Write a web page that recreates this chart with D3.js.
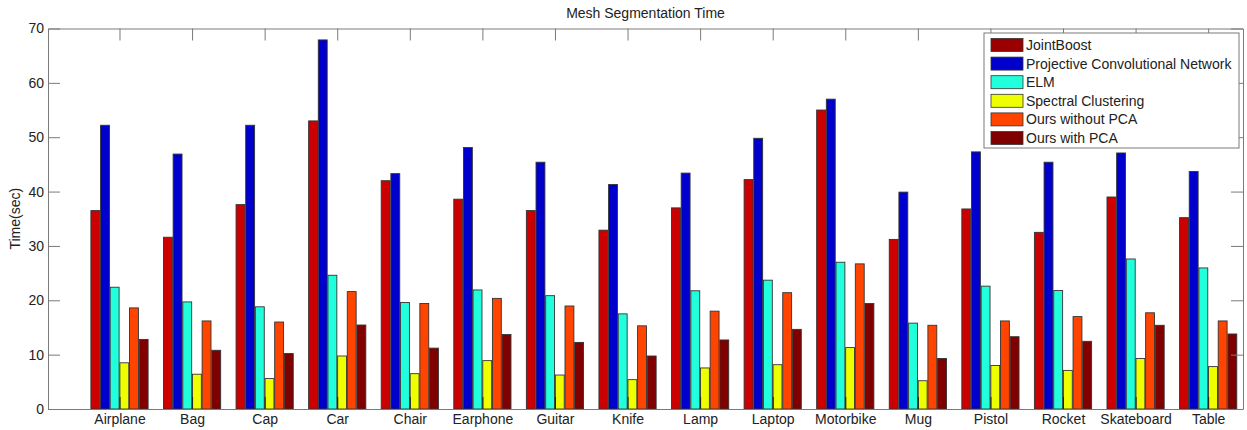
<!DOCTYPE html>
<html>
<head>
<meta charset="utf-8">
<script src="https://cdn.jsdelivr.net/npm/d3@7"></script>
<style>
  body { margin: 0; background: #fff; }
  svg text { font-family: "Liberation Sans", Arial, sans-serif; fill: #222; }
</style>
</head>
<body>
<div id="chart"></div>
<script>
// data
const categories = ['Airplane', 'Bag', 'Cap', 'Car', 'Chair', 'Earphone', 'Guitar', 'Knife',
    'Lamp', 'Laptop', 'Motorbike', 'Mug', 'Pistol', 'Rocket', 'Skateboard', 'Table'];
const seriesNames = ['JointBoost', 'Projective Convolutional Network', 'ELM',
    'Spectral Clustering', 'Ours without PCA', 'Ours with PCA'];
const jointBoost = [36.5, 31.6, 37.6, 53.0, 42.0, 38.6, 36.5, 32.9, 37.0, 42.2, 55.0, 31.2, 36.8, 32.5, 39.0, 35.2];
const projConv = [52.2, 46.9, 52.2, 67.9, 43.3, 48.1, 45.4, 41.3, 43.4, 49.8, 57.0, 39.9, 47.3, 45.4, 47.1, 43.7];
const elm = [22.4, 19.7, 18.8, 24.6, 19.6, 21.9, 20.85, 17.5, 21.75, 23.7, 27.0, 15.8, 22.6, 21.8, 27.6, 25.95];
const spectral = [8.5, 6.4, 5.6, 9.75, 6.5, 8.9, 6.25, 5.4, 7.55, 8.15, 11.3, 5.2, 8.0, 7.1, 9.3, 7.8];
const oursNoPca = [18.6, 16.2, 16.0, 21.6, 19.4, 20.35, 18.95, 15.3, 18.0, 21.4, 26.7, 15.4, 16.2, 17.0, 17.7, 16.2];
const oursPca = [12.8, 10.8, 10.2, 15.45, 11.2, 13.7, 12.25, 9.75, 12.7, 14.65, 19.4, 9.3, 13.3, 12.45, 15.4, 13.8];
const yTicks = [0, 10, 20, 30, 40, 50, 60, 70];

const allSeries = [jointBoost, projConv, elm, spectral, oursNoPca, oursPca];
const barColors = ['#cc0000', '#0000cc', '#22ffdd', '#eeff00', '#ff4400', '#800000'];
const legendColors = ['#9a0000', '#0000cc', '#22ffdd', '#eeff00', '#ff4400', '#800000'];

const width = 1247, height = 430;
const plot = {left: 48, right: 1243, top: 28.5, bottom: 409};
const fontSize = 14;

const svg = d3.select('#chart').append('svg')
    .attr('width', width)
    .attr('height', height);

const xScale = d3.scaleLinear()
    .domain([0.015, 16.48])
    .range([plot.left, plot.right]);

const yScale = d3.scaleLinear()
    .domain([0, 70])
    .range([plot.bottom, plot.top]);

const groupWidth = 0.788;
const subScale = d3.scaleBand()
    .domain(d3.range(seriesNames.length))
    .range([-groupWidth / 2, groupWidth / 2])
    .paddingInner(0.08);

svg.append('rect')
    .attr('x', plot.left).attr('y', plot.top)
    .attr('width', plot.right - plot.left)
    .attr('height', plot.bottom - plot.top)
    .attr('fill', '#fff');

// bars
const bars = [];
allSeries.forEach((vals, s) => {
    vals.forEach((v, i) => bars.push({s: s, i: i, v: v}));
});

svg.append('g')
    .selectAll('rect')
    .data(bars)
    .join('rect')
    .attr('x', d => xScale(d.i + 1 + subScale(d.s)))
    .attr('width', d => xScale(subScale.bandwidth()) - xScale(0))
    .attr('y', d => yScale(d.v))
    .attr('height', d => yScale(0) - yScale(d.v))
    .attr('fill', d => barColors[d.s])
    .attr('stroke', '#333')
    .attr('stroke-width', 0.9);

// axes, ticks pointing inward
const catTicks = categories.map((c, i) => i + 1);

const xAxis = svg.append('g')
    .attr('transform', `translate(0, ${plot.bottom})`)
    .call(d3.axisBottom(xScale)
        .tickValues(catTicks)
        .tickFormat(d => categories[d - 1])
        .tickSizeInner(-12)
        .tickSizeOuter(0)
        .tickPadding(5));
xAxis.selectAll('line').attr('stroke', '#222');

const xTop = svg.append('g')
    .attr('transform', `translate(0, ${plot.top})`)
    .call(d3.axisTop(xScale)
        .tickValues(catTicks)
        .tickFormat('')
        .tickSizeInner(-12)
        .tickSizeOuter(0));

const yAxis = svg.append('g')
    .attr('transform', `translate(${plot.left}, 0)`)
    .call(d3.axisLeft(yScale)
        .tickValues(yTicks)
        .tickSizeInner(-12)
        .tickSizeOuter(0)
        .tickPadding(4));

const yRight = svg.append('g')
    .attr('transform', `translate(${plot.right}, 0)`)
    .call(d3.axisRight(yScale)
        .tickValues(yTicks)
        .tickFormat('')
        .tickSizeInner(-12)
        .tickSizeOuter(0));

[xAxis, xTop, yAxis, yRight].forEach(g => {
    g.select('.domain').attr('stroke', '#7a7a7a');
    g.selectAll('text').attr('font-size', fontSize).attr('fill', '#222')
        .style('font-family', '"Liberation Sans", Arial, sans-serif');
});
[xTop, yAxis, yRight].forEach(g => g.selectAll('line').attr('stroke', '#7a7a7a'));

// title and label
svg.append('text')
    .attr('x', (plot.left + plot.right) / 2)
    .attr('y', 18)
    .attr('text-anchor', 'middle')
    .attr('font-size', fontSize)
    .text('Mesh Segmentation Time');

svg.append('text')
    .attr('transform', `translate(20, ${(plot.top + plot.bottom) / 2}) rotate(-90)`)
    .attr('text-anchor', 'middle')
    .attr('font-size', fontSize)
    .text('Time(sec)');

// legend
const legend = svg.append('g');
legend.append('rect')
    .attr('x', 984).attr('y', 33)
    .attr('width', 255).attr('height', 115)
    .attr('fill', '#fff')
    .attr('stroke', '#7a7a7a');

const rows = legend.selectAll('g.row')
    .data(seriesNames)
    .join('g')
    .attr('class', 'row')
    .attr('transform', (d, i) => `translate(991, ${45 + i * 18.6})`);

rows.append('rect')
    .attr('x', 0).attr('y', -6.5)
    .attr('width', 32).attr('height', 13)
    .attr('fill', (d, i) => legendColors[i])
    .attr('stroke', '#333')
    .attr('stroke-width', 0.8);

rows.append('text')
    .attr('x', 35)
    .attr('y', 5)
    .attr('font-size', fontSize)
    .text(d => d);
</script>
</body>
</html>
